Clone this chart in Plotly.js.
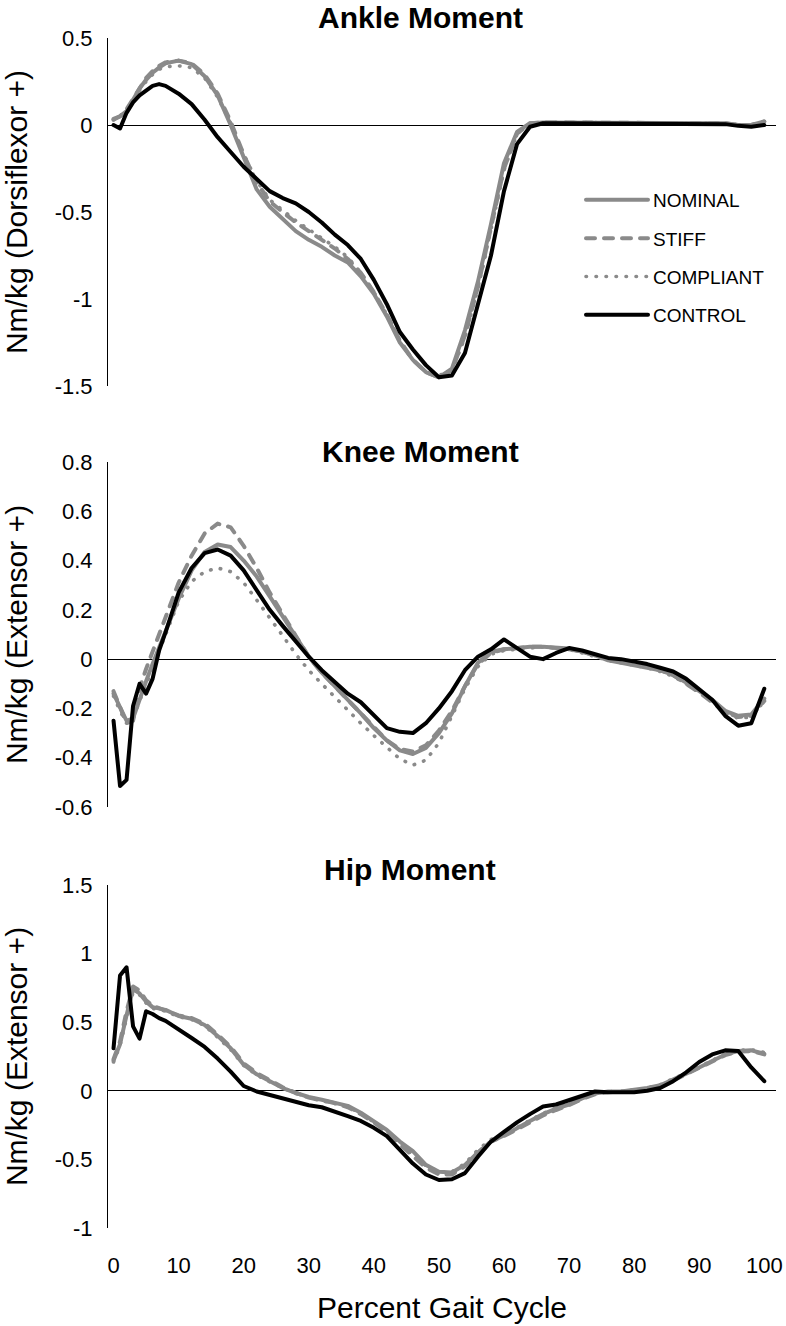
<!DOCTYPE html>
<html>
<head>
<meta charset="utf-8">
<script src="https://cdn.plot.ly/plotly-3.0.1.min.js"></script>
<style>
html,body{margin:0;padding:0;background:#fff;}
#chart{width:786px;height:1326px;}
.js-line{stroke-linecap:round;stroke-linejoin:round;}
</style>
</head>
<body>
<div id="chart"></div>
<script>
// Percent of gait cycle (shared x values)
const pct = [0,1,2,3,4,5,6,7,8,10,12,14,16,18,20,22,24,26,28,30,32,34,36,38,40,42,44,46,48,50,52,54,56,58,60,62,64,66,68,70,72,74,76,78,80,82,84,86,88,90,92,94,96,98,100];

const seriesNames = ['NOMINAL','STIFF','COMPLIANT','CONTROL'];
const panelTitles = ['Ankle Moment','Knee Moment','Hip Moment'];
const yTitles = ['Nm/kg (Dorsiflexor +)','Nm/kg (Extensor +)','Nm/kg (Extensor +)'];
const xTitle = 'Percent Gait Cycle';

// Ankle moment
const ankleNominal = [0.035,0.05,0.08,0.15,0.21,0.26,0.30,0.33,0.355,0.37,0.35,0.28,0.17,0.0,-0.19,-0.37,-0.47,-0.54,-0.61,-0.66,-0.70,-0.75,-0.79,-0.87,-0.97,-1.10,-1.25,-1.35,-1.42,-1.45,-1.40,-1.18,-0.90,-0.57,-0.22,-0.04,0.01,0.015,0.015,0.01,0.01,0.01,0.01,0.01,0.01,0.01,0.01,0.015,0.015,0.01,0.01,0.01,0.0,0.0,0.02];
const ankleStiff = [0.03,0.05,0.09,0.15,0.21,0.27,0.31,0.34,0.36,0.37,0.355,0.29,0.18,0.02,-0.17,-0.33,-0.44,-0.50,-0.56,-0.61,-0.66,-0.71,-0.77,-0.85,-0.96,-1.09,-1.24,-1.35,-1.42,-1.45,-1.41,-1.21,-0.93,-0.60,-0.25,-0.05,0.01,0.015,0.015,0.01,0.01,0.01,0.01,0.01,0.01,0.01,0.01,0.015,0.015,0.01,0.01,0.01,0.0,0.0,0.02];
const ankleCompliant = [0.03,0.05,0.08,0.14,0.20,0.25,0.29,0.32,0.335,0.34,0.33,0.27,0.16,0.01,-0.17,-0.32,-0.43,-0.49,-0.55,-0.60,-0.65,-0.70,-0.76,-0.85,-0.96,-1.09,-1.24,-1.35,-1.42,-1.44,-1.41,-1.22,-0.94,-0.61,-0.26,-0.05,0.01,0.015,0.015,0.01,0.01,0.01,0.01,0.01,0.01,0.01,0.01,0.015,0.015,0.01,0.01,0.01,0.0,0.0,0.02];
const ankleControl = [0.0,-0.02,0.07,0.13,0.17,0.20,0.225,0.235,0.225,0.18,0.12,0.03,-0.07,-0.155,-0.24,-0.31,-0.38,-0.42,-0.45,-0.50,-0.56,-0.63,-0.69,-0.77,-0.89,-1.03,-1.19,-1.29,-1.38,-1.45,-1.44,-1.31,-1.04,-0.75,-0.38,-0.11,-0.01,0.01,0.01,0.01,0.01,0.005,0.005,0.005,0.005,0.005,0.01,0.01,0.01,0.01,0.01,0.005,-0.005,-0.01,0.0];

// Knee moment
const kneeNominal = [-0.14,-0.20,-0.25,-0.24,-0.16,-0.09,-0.02,0.045,0.115,0.245,0.36,0.435,0.465,0.455,0.40,0.335,0.255,0.175,0.095,0.01,-0.055,-0.11,-0.16,-0.22,-0.28,-0.33,-0.37,-0.385,-0.36,-0.30,-0.22,-0.11,-0.015,0.03,0.04,0.045,0.05,0.05,0.048,0.043,0.03,0.015,-0.005,-0.015,-0.025,-0.035,-0.045,-0.065,-0.095,-0.13,-0.165,-0.21,-0.23,-0.225,-0.16];
const kneeStiff = [-0.13,-0.19,-0.26,-0.25,-0.12,-0.04,0.03,0.10,0.18,0.31,0.42,0.51,0.55,0.535,0.46,0.37,0.27,0.18,0.095,0.01,-0.055,-0.11,-0.165,-0.22,-0.28,-0.33,-0.365,-0.375,-0.35,-0.29,-0.21,-0.11,-0.02,0.025,0.04,0.045,0.05,0.05,0.045,0.04,0.03,0.015,0.0,-0.01,-0.02,-0.03,-0.045,-0.065,-0.10,-0.135,-0.175,-0.215,-0.235,-0.23,-0.17];
const kneeCompliant = [-0.15,-0.21,-0.26,-0.24,-0.17,-0.10,-0.03,0.035,0.10,0.235,0.315,0.355,0.37,0.355,0.31,0.24,0.17,0.095,0.02,-0.045,-0.10,-0.155,-0.21,-0.26,-0.31,-0.36,-0.405,-0.43,-0.41,-0.34,-0.23,-0.12,-0.03,0.02,0.035,0.04,0.045,0.05,0.045,0.04,0.025,0.01,-0.005,-0.015,-0.025,-0.035,-0.05,-0.07,-0.10,-0.135,-0.17,-0.215,-0.24,-0.235,-0.17];
const kneeControl = [-0.25,-0.515,-0.49,-0.19,-0.10,-0.14,-0.08,0.035,0.11,0.27,0.37,0.43,0.445,0.42,0.36,0.28,0.20,0.135,0.07,0.01,-0.045,-0.095,-0.14,-0.175,-0.225,-0.28,-0.295,-0.30,-0.26,-0.20,-0.13,-0.045,0.01,0.04,0.08,0.045,0.01,0.0,0.025,0.045,0.035,0.02,0.005,0.0,-0.01,-0.02,-0.035,-0.05,-0.08,-0.12,-0.165,-0.23,-0.27,-0.26,-0.12];

// Hip moment
const hipNominal = [0.22,0.34,0.55,0.74,0.71,0.65,0.61,0.60,0.59,0.545,0.525,0.48,0.40,0.31,0.19,0.12,0.07,0.02,-0.015,-0.045,-0.065,-0.085,-0.11,-0.16,-0.22,-0.285,-0.37,-0.44,-0.54,-0.59,-0.595,-0.54,-0.45,-0.37,-0.325,-0.27,-0.22,-0.17,-0.13,-0.10,-0.055,-0.02,-0.005,-0.005,0.005,0.02,0.04,0.08,0.125,0.17,0.22,0.265,0.29,0.295,0.27];
const hipStiff = [0.23,0.36,0.58,0.76,0.73,0.66,0.62,0.60,0.585,0.55,0.53,0.49,0.41,0.32,0.20,0.13,0.075,0.025,-0.015,-0.05,-0.07,-0.09,-0.12,-0.17,-0.23,-0.30,-0.39,-0.48,-0.56,-0.61,-0.61,-0.55,-0.45,-0.37,-0.33,-0.28,-0.23,-0.18,-0.14,-0.105,-0.06,-0.025,-0.01,-0.005,0.0,0.015,0.035,0.075,0.12,0.165,0.215,0.26,0.285,0.29,0.265];
const hipCompliant = [0.21,0.33,0.53,0.72,0.70,0.64,0.60,0.595,0.58,0.54,0.52,0.475,0.39,0.30,0.185,0.115,0.065,0.02,-0.02,-0.05,-0.07,-0.09,-0.115,-0.165,-0.225,-0.29,-0.375,-0.465,-0.545,-0.59,-0.59,-0.53,-0.43,-0.355,-0.32,-0.265,-0.215,-0.165,-0.125,-0.095,-0.05,-0.02,-0.005,-0.005,0.005,0.02,0.045,0.085,0.13,0.175,0.225,0.27,0.295,0.30,0.28];
const hipControl = [0.31,0.84,0.90,0.47,0.38,0.58,0.56,0.53,0.51,0.45,0.385,0.32,0.235,0.14,0.035,-0.005,-0.03,-0.055,-0.085,-0.105,-0.12,-0.15,-0.185,-0.22,-0.27,-0.33,-0.43,-0.53,-0.61,-0.65,-0.645,-0.60,-0.48,-0.37,-0.30,-0.23,-0.17,-0.115,-0.10,-0.07,-0.035,-0.005,-0.01,-0.01,-0.01,0.0,0.02,0.07,0.135,0.21,0.265,0.295,0.29,0.17,0.07];

// Tick labels
const ankleTickVals = [0.5,0,-0.5,-1,-1.5];
const ankleTickText = ['0.5','0','-0.5','-1','-1.5'];
const kneeTickVals = [0.8,0.6,0.4,0.2,0,-0.2,-0.4,-0.6];
const kneeTickText = ['0.8','0.6','0.4','0.2','0','-0.2','-0.4','-0.6'];
const hipTickVals = [1.5,1,0.5,0,-0.5,-1];
const hipTickText = ['1.5','1','0.5','0','-0.5','-1'];
const xTickVals = [0,10,20,30,40,50,60,70,80,90,100];
const xTickText = ['0','10','20','30','40','50','60','70','80','90','100'];

// ---------- drawing ----------
const W = 786, H = 1326;
const fx = px => px / W;
const fy = py => 1 - py / H;

const styles = {
  NOMINAL:   {color:'#8a8a8a', width:4, dash:'solid'},
  STIFF:     {color:'#8a8a8a', width:4, dash:'9px,9px'},
  COMPLIANT: {color:'#8a8a8a', width:3.6, dash:'0.5px,9.5px'},
  CONTROL:   {color:'#000000', width:4, dash:'solid'}
};

const panels = [
  {data:[ankleNominal, ankleStiff, ankleCompliant, ankleControl], xa:'x',  ya:'y'},
  {data:[kneeNominal, kneeStiff, kneeCompliant, kneeControl],     xa:'x2', ya:'y2'},
  {data:[hipNominal, hipStiff, hipCompliant, hipControl],         xa:'x3', ya:'y3'}
];

const traces = [];
panels.forEach((p, pi) => {
  p.data.forEach((vals, si) => {
    const name = seriesNames[si];
    traces.push({
      type:'scatter', mode:'lines', x:pct, y:vals, name:name,
      xaxis:p.xa, yaxis:p.ya, legendgroup:name, showlegend: pi === 0,
      line:{color:styles[name].color, width:styles[name].width, dash:styles[name].dash},
      hoverinfo:'skip'
    });
  });
});

const xDomain = [fx(108), fx(776)];
const xRange = [-0.85, 101.8];
const baseX = {domain:xDomain, range:xRange, showgrid:false, zeroline:false, showline:false, ticks:'', fixedrange:true};
const baseY = {showgrid:false, showline:true, linecolor:'#000', linewidth:1, zeroline:true, zerolinecolor:'#000', zerolinewidth:1,
  ticks:'', tickfont:{size:22, color:'#000'}, ticklabelstandoff:10, fixedrange:true};

const layout = {
  width:W, height:H, margin:{l:0,r:0,t:0,b:0},
  paper_bgcolor:'#fff', plot_bgcolor:'rgba(0,0,0,0)',
  font:{family:'"Liberation Sans", Arial, Helvetica, sans-serif', color:'#000'},
  showlegend:true,
  legend:{x:fx(581), y:fy(181), xanchor:'left', yanchor:'top', font:{size:19, color:'#000'},
    tracegroupgap:10.6, itemwidth:62, bgcolor:'rgba(0,0,0,0)', borderwidth:0},
  xaxis: Object.assign({}, baseX, {anchor:'y', showticklabels:false}),
  xaxis2: Object.assign({}, baseX, {anchor:'y2', showticklabels:false}),
  xaxis3: Object.assign({}, baseX, {anchor:'y3', showticklabels:true, tickvals:xTickVals, ticktext:xTickText,
    tickfont:{size:22, color:'#000'}, ticklabelstandoff:22,
    title:{text:xTitle, font:{size:30, color:'#000'}, standoff:19}}),
  yaxis: Object.assign({}, baseY, {anchor:'x', domain:[fy(386), fy(38)], range:[-1.5,0.5],
    tickvals:ankleTickVals, ticktext:ankleTickText, title:{text:yTitles[0], font:{size:30, color:'#000'}, standoff:20}}),
  yaxis2: Object.assign({}, baseY, {anchor:'x2', domain:[fy(807), fy(462)], range:[-0.6,0.8],
    tickvals:kneeTickVals, ticktext:kneeTickText, title:{text:yTitles[1], font:{size:30, color:'#000'}, standoff:20}}),
  yaxis3: Object.assign({}, baseY, {anchor:'x3', domain:[fy(1228), fy(885)], range:[-1,1.5],
    tickvals:hipTickVals, ticktext:hipTickText, title:{text:yTitles[2], font:{size:30, color:'#000'}, standoff:20}}),
  annotations:[
    {text:panelTitles[0], xref:'paper', yref:'paper', x:fx(420), y:fy(18), showarrow:false, xanchor:'center', yanchor:'middle', font:{size:30, weight:'bold', color:'#000'}},
    {text:panelTitles[1], xref:'paper', yref:'paper', x:fx(420), y:fy(451), showarrow:false, xanchor:'center', yanchor:'middle', font:{size:30, weight:'bold', color:'#000'}},
    {text:panelTitles[2], xref:'paper', yref:'paper', x:fx(410), y:fy(869), showarrow:false, xanchor:'center', yanchor:'middle', font:{size:30, weight:'bold', color:'#000'}}
  ]
};

Plotly.newPlot('chart', traces, layout, {staticPlot:true, displayModeBar:false});
</script>
</body>
</html>
